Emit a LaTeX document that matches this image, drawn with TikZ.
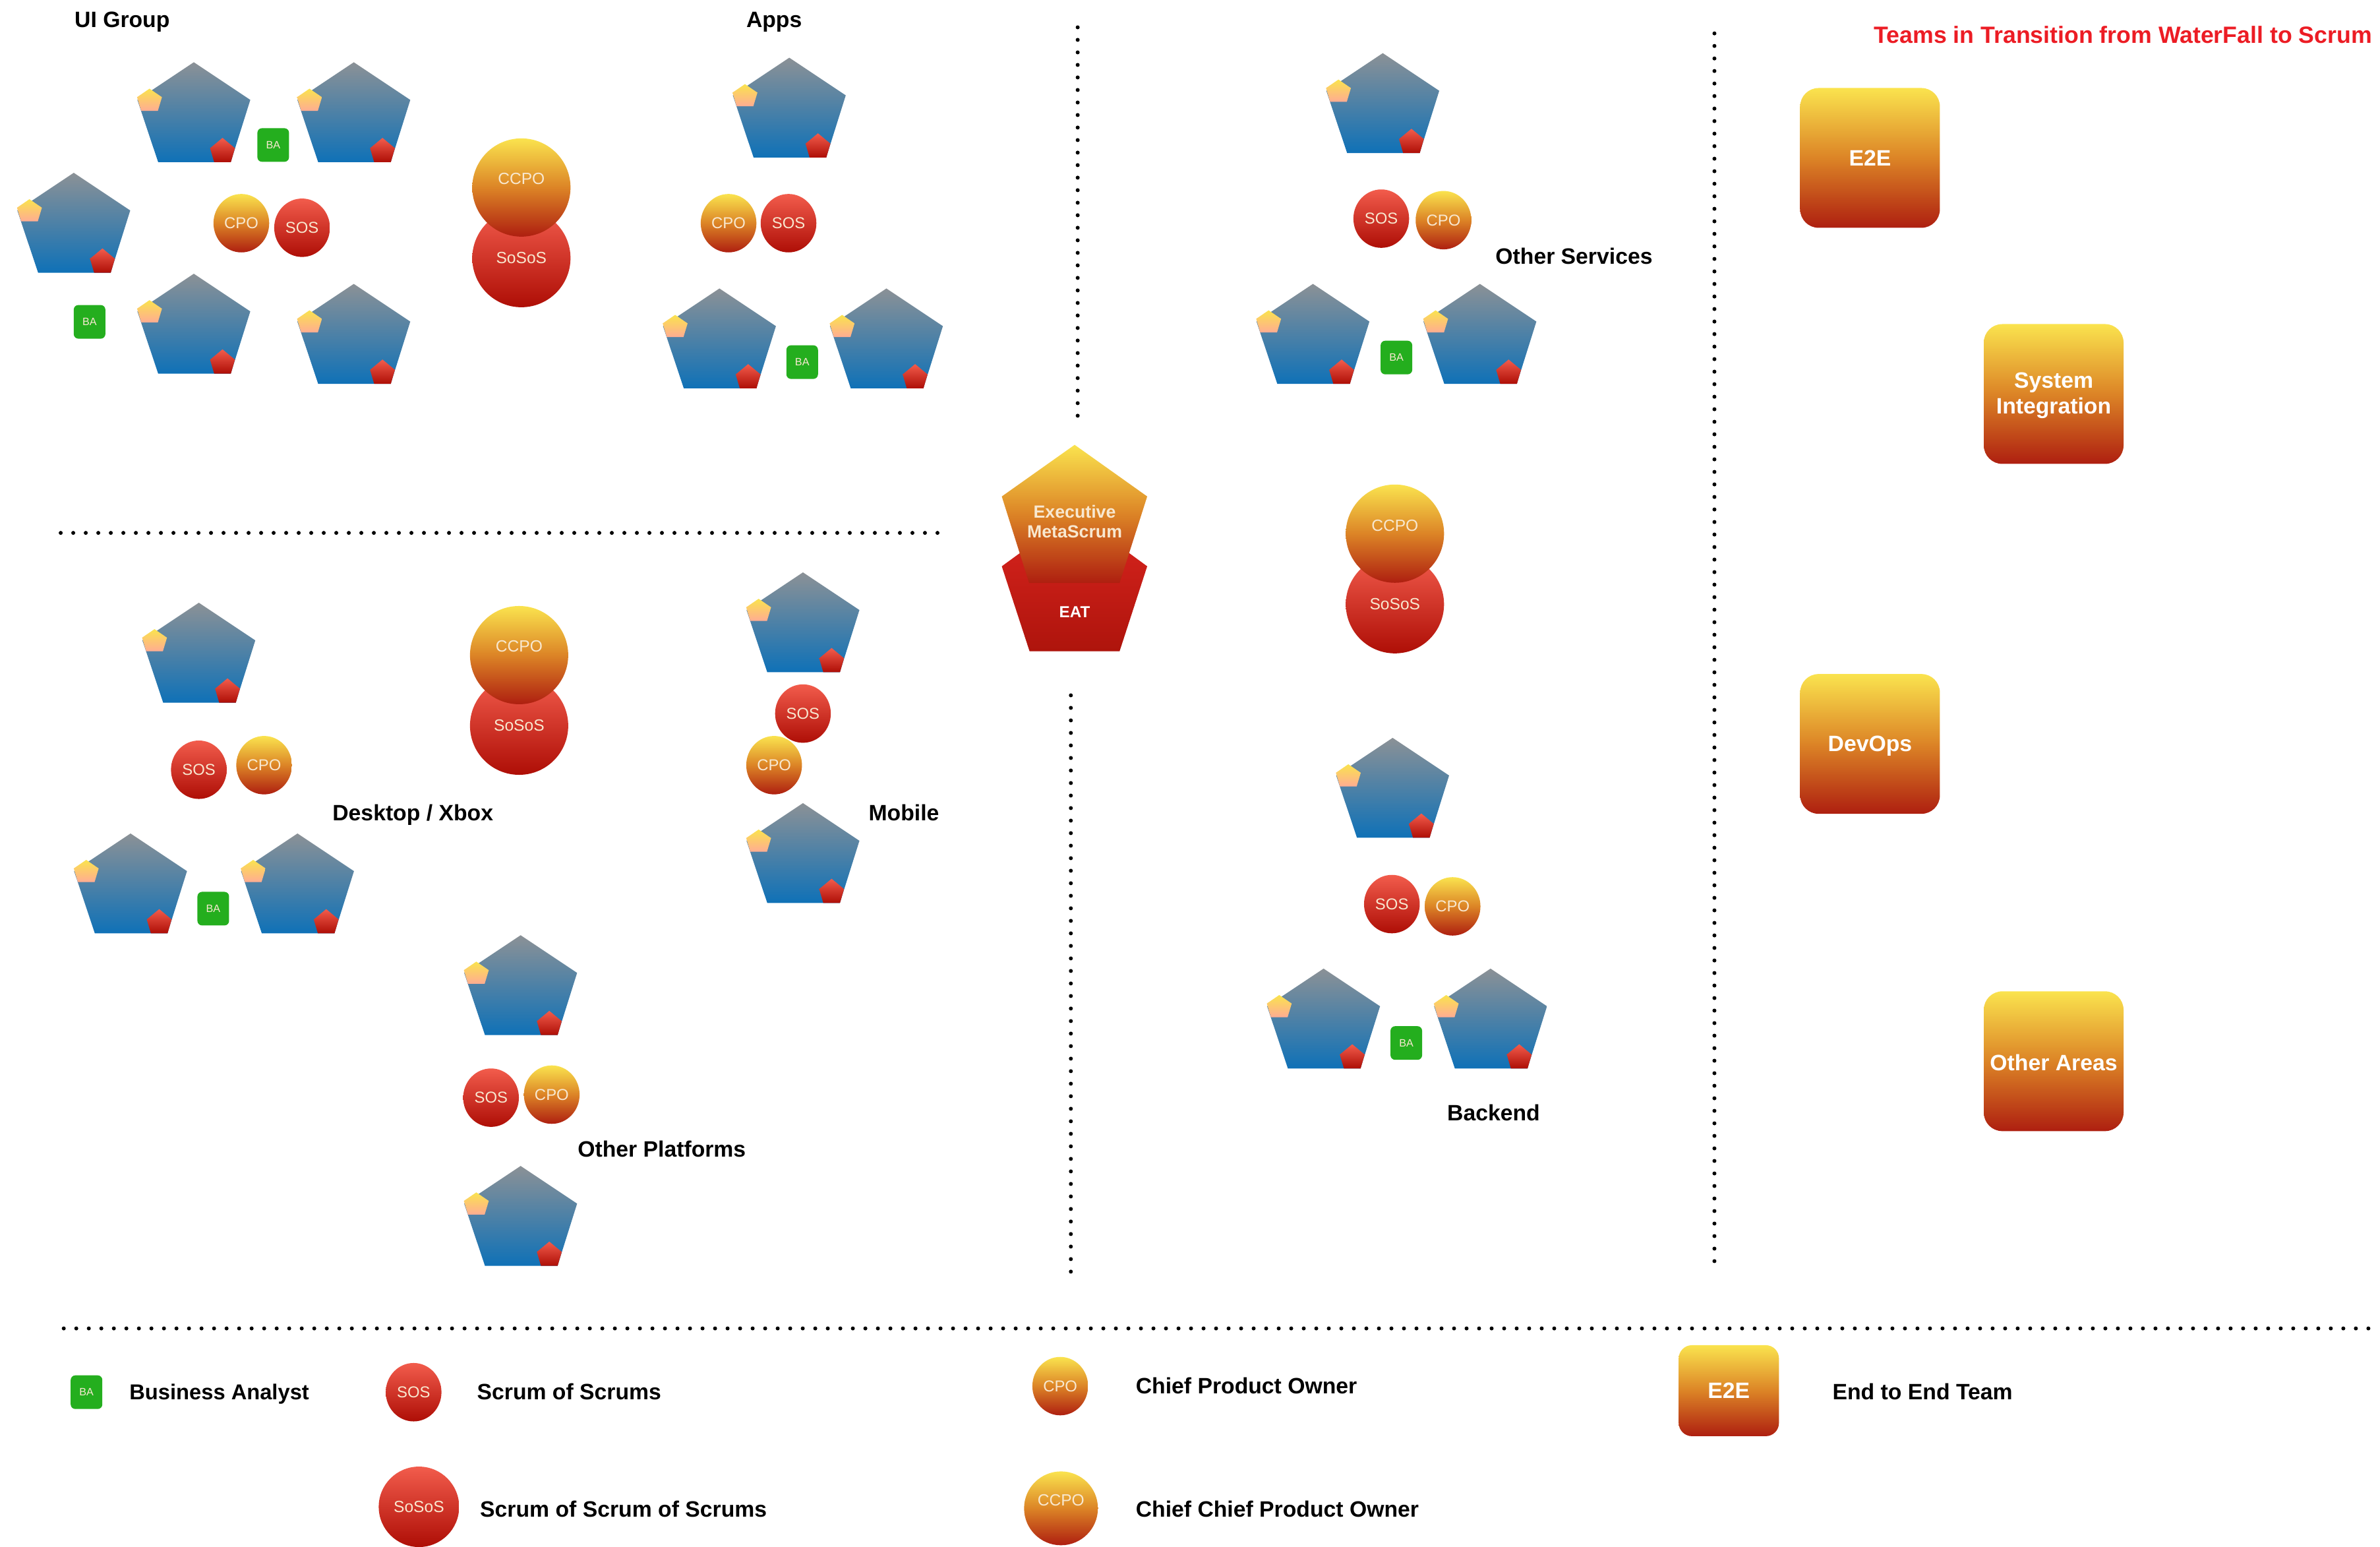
\documentclass[tikz,border=0pt]{standalone}
\usepackage{fontspec}
\setmainfont{Liberation Sans}
\usetikzlibrary{shapes.geometric}
\definecolor{tgrey}{HTML}{8B9196}
\definecolor{tblue}{HTML}{0F71B7}
\definecolor{yhi}{HTML}{FAE34E}
\definecolor{ymid}{HTML}{DC8426}
\definecolor{ylo}{HTML}{AE1F10}
\definecolor{rhi}{HTML}{F25C4C}
\definecolor{rlo}{HTML}{AE0E06}
\definecolor{peach}{HTML}{FFAC92}
\definecolor{eathi}{HTML}{DC2620}
\definecolor{eatlo}{HTML}{AE140C}
\definecolor{bagreen}{HTML}{24AE1E}
\definecolor{pale}{HTML}{F8E8D0}
\definecolor{titlered}{HTML}{EC1C24}
\tikzset{
  teamfill/.style={top color=tgrey,bottom color=tblue},
  pofill/.style={top color=yhi,bottom color=ylo,middle color=ymid},
  redfill/.style={top color=rhi,bottom color=rlo},
  peachfill/.style={top color=yhi,bottom color=peach},
  cpo/.style={ellipse,inner sep=0pt,minimum width=0.845cm,minimum height=0.886cm,pofill,text=pale,font=\fontsize{6.8}{8}\selectfont},
  sos/.style={ellipse,inner sep=0pt,minimum width=0.845cm,minimum height=0.886cm,redfill,text=pale,font=\fontsize{6.8}{8}\selectfont},
  ccpo/.style={circle,inner sep=0pt,minimum size=1.49cm,pofill},
  sosos/.style={circle,inner sep=0pt,minimum size=1.49cm,redfill,text=pale,font=\fontsize{7}{8}\selectfont},
  ccpotext/.style={text=pale,font=\fontsize{7}{8}\selectfont,inner sep=0pt},
  ba/.style={rectangle,rounded corners=0.07cm,inner sep=0pt,minimum width=0.48cm,minimum height=0.51cm,fill=bagreen,text=pale,font=\fontsize{4.6}{5}\selectfont},
  e2e/.style={rectangle,rounded corners=0.28cm,inner sep=0pt,minimum width=2.12cm,minimum height=2.12cm,pofill},
  e2etext/.style={inner sep=0pt,text=white,align=center,font=\fontsize{9.6}{11.1}\bfseries\selectfont},
  lbl/.style={inner sep=0pt,text height=8.6pt,text depth=2pt,font=\fontsize{9.6}{11}\bfseries\selectfont,text=black},
  legend/.style={lbl,anchor=west},
  dots/.style={line width=0.06cm,line cap=round,dash pattern=on 0pt off 0.19cm,black},
}
\newcommand{\teamshape}[2]{%
  \shade[teamfill] (#1,#2) -- +(37.2,24.8) -- +(24.3,65.8) -- +(-23.5,65.8) -- +(-37.2,24.8) -- cycle;
  \shade[peachfill] ({#1-29.2},{#2+17.4}) -- +(8.2,5.6) -- +(5.5,14.6) -- +(-5.5,14.6) -- +(-8.2,5.6) -- cycle;
  \shade[redfill] ({#1+18.9},{#2+49.8}) -- +(8.2,6.8) -- +(5.5,16) -- +(-5.5,16) -- +(-8.2,6.8) -- cycle;
}
\begin{document}
\begin{tikzpicture}[x=0.023023cm,y=-0.023023cm]
\useasboundingbox (0,0) rectangle (1568,1018.55);

% dotted rules
\coordinate (hA) at (40,351); \coordinate (hB) at (620,351);
\coordinate (hC) at (42,875); \coordinate (hD) at (1563,875);
\coordinate (vA) at (710,18); \coordinate (vB) at (710,278);
\coordinate (vC) at (705.5,458); \coordinate (vD) at (705.5,838);
\coordinate (vE) at (1129.5,22); \coordinate (vF) at (1129.5,832);
\draw[dots] (hA) -- (hB);
\draw[dots] (hC) -- (hD);
\draw[dots] (vA) -- (vB);
\draw[dots] (vC) -- (vD);
\draw[dots] (vE) -- (vF);

% UI Group
\teamshape{127.7}{41}\teamshape{233.1}{41}\teamshape{48.6}{113.8}\teamshape{127.7}{180.3}\teamshape{233.1}{187}
\node[ba] (baUIa) at (180,95.5) {BA};
\node[ba] (baUIb) at (59,212) {BA};
\node[cpo] (cpoUI) at (159,147) {CPO};
\node[sos] (sosUI) at (199,150) {SOS};
\node[sosos] (ssUI) at (343.5,170) {SoSoS};
\node[ccpo] (ccUI) at (343.5,123.5) {};
\node[ccpotext] (ccUIt) at (343.5,117.5) {CCPO};
\node[lbl] (lUI) at (80.5,13) {UI Group};

% Apps
\teamshape{520}{38}\teamshape{474}{190}\teamshape{584}{190}
\node[ba] (baApps) at (528.5,238.5) {BA};
\node[cpo] (cpoApps) at (480,147) {CPO};
\node[sos] (sosApps) at (519.5,147) {SOS};
\node[lbl] (lApps) at (510,13) {Apps};

% Other Services
\teamshape{911}{35}\teamshape{865}{187}\teamshape{975}{187}
\node[ba] (baSvc) at (920,235.5) {BA};
\node[sos] (sosSvc) at (910,144) {SOS};
\node[cpo] (cpoSvc) at (951,145) {CPO};
\node[sosos] (ssSvc) at (919,398) {SoSoS};
\node[ccpo] (ccSvc) at (919,351.5) {};
\node[ccpotext] (ccSvct) at (919,346) {CCPO};
\node[lbl] (lSvc) at (1037,169) {Other Services};

% Desktop / Xbox
\teamshape{131}{397}\teamshape{86}{549}\teamshape{196}{549}
\node[ba] (baDesk) at (140.5,598.5) {BA};
\node[sos] (sosDesk) at (131,507) {SOS};
\node[cpo] (cpoDesk) at (174,504) {CPO};
\node[sosos] (ssDesk) at (342,478) {SoSoS};
\node[ccpo] (ccDesk) at (342,431.5) {};
\node[ccpotext] (ccDeskt) at (342,425.5) {CCPO};
\node[lbl] (lDesk) at (272,535.5) {Desktop / Xbox};

% Mobile
\teamshape{529}{377}\teamshape{529}{529}
\node[sos] (sosMob) at (529,470) {SOS};
\node[cpo] (cpoMob) at (510,504) {CPO};
\node[lbl] (lMob) at (595.5,535.5) {Mobile};

% Other Platforms
\teamshape{343}{616}\teamshape{343}{768}
\node[sos] (sosPlat) at (323.5,723) {SOS};
\node[cpo] (cpoPlat) at (363.5,721) {CPO};
\node[lbl] (lPlat) at (436,757) {Other Platforms};

% Backend
\teamshape{917.5}{486}\teamshape{872}{638}\teamshape{982}{638}
\node[ba] (baBack) at (926.5,687) {BA};
\node[sos] (sosBack) at (917,595.5) {SOS};
\node[cpo] (cpoBack) at (957,597) {CPO};
\node[lbl] (lBack) at (984,733) {Backend};

% Executive
\shade[top color=eathi,bottom color=eatlo] (708,338) -- (755.8,373) -- (737.6,429) -- (678.3,429) -- (660,373) -- cycle;
\shade[pofill] (708,293) -- (755.8,327) -- (737.6,384) -- (678,384) -- (660,327) -- cycle;
\node[text=pale,inner sep=0pt,align=center,font=\fontsize{7.6}{8.6}\bfseries\selectfont] (exec) at (708,343.5) {Executive\\MetaScrum};
\node[text=white,inner sep=0pt,font=\fontsize{6.9}{8}\bfseries\selectfont] (eat) at (708,403) {EAT};

% Transition teams
\node[lbl,anchor=east,text=titlered,font=\fontsize{10.15}{11}\bfseries\selectfont] (title) at (1563,23.5) {Teams in Transition from WaterFall to Scrum};
\node[e2e] (bE) at (1232,104) {};
\node[e2etext] (tbE) at (1232,104) {E2E};
\node[e2e] (bSI) at (1353,259.5) {};
\node[e2etext] (tbSI) at (1353,260.5) {System\\Integration};
\node[e2e] (bDO) at (1232,490) {};
\node[e2etext] (tbDO) at (1232,491.5) {DevOps};
\node[e2e] (bOA) at (1353,699) {};
\node[e2etext] (tbOA) at (1353,700) {Other Areas};

% Legend
\node[ba] (kBA) at (57,917) {BA};
\node[legend,font=\fontsize{9.3}{11}\bfseries\selectfont] (tBA) at (85,917) {Business Analyst};
\node[sos] (kSOS) at (272.5,917) {SOS};
\node[legend] (tSOS) at (314,917) {Scrum of Scrums};
\node[sosos,minimum size=1.22cm] (kSS) at (276,992.5) {SoSoS};
\node[legend] (tSS) at (316,994) {Scrum of Scrum of Scrums};
\node[cpo] (kCPO) at (698.5,913) {CPO};
\node[legend] (tCPO) at (748,913) {Chief Product Owner};
\node[ccpo,minimum size=1.12cm] (kCC) at (699,993.5) {};
\node[ccpotext] (kCCt) at (699,988) {CCPO};
\node[legend] (tCC) at (748,994) {Chief Chief Product Owner};
\node[e2e,minimum width=1.52cm,minimum height=1.38cm,rounded corners=0.2cm] (kE) at (1139,916) {};
\node[e2etext] (tkE) at (1139,916) {E2E};
\node[legend] (tE) at (1207,917) {End to End Team};
\end{tikzpicture}
\end{document}
